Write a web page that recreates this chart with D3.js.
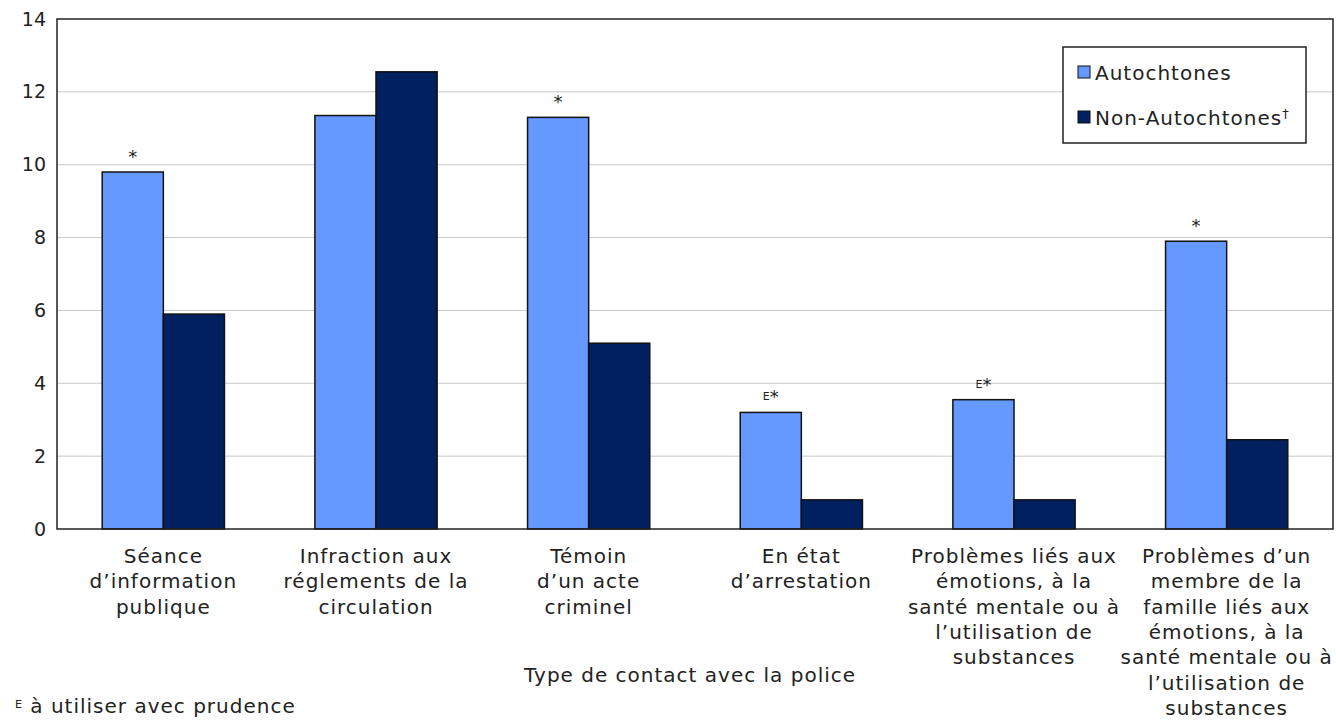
<!DOCTYPE html>
<html>
<head>
<meta charset="utf-8">
<script src="https://cdn.jsdelivr.net/npm/d3@7"></script>
<style>
  body { margin: 0; background: #fff; }
  svg text { font-family: "DejaVu Sans", Verdana, sans-serif; fill: #222; }
  .lbl { font-size: 20px; letter-spacing: 1px; }
</style>
</head>
<body>
<svg id="chart" width="1336" height="723"></svg>
<script>
// categories, one array of lines per group
const categories = [
  ["Séance", "d’information", "publique"],
  ["Infraction aux", "réglements de la", "circulation"],
  ["Témoin", "d’un acte", "criminel"],
  ["En état", "d’arrestation"],
  ["Problèmes liés aux", "émotions, à la", "santé mentale ou à", "l’utilisation de", "substances"],
  ["Problèmes d’un", "membre de la", "famille liés aux", "émotions, à la", "santé mentale ou à", "l’utilisation de", "substances"]
]
const autochtones = [9.8, 11.35, 11.3, 3.2, 3.55, 7.9]
const nonAutochtones = [5.9, 12.55, 5.1, 0.8, 0.8, 2.45]
// significance / quality flags shown above the Autochtones bars
const flags = ["*", "", "*", "E*", "E*", "*"]
const yTicks = [0, 2, 4, 6, 8, 10, 12, 14]
const seriesNames = ["Autochtones", "Non-Autochtones"]
const colors = ["#6699ff", "#002060"]

const svg = d3.select("#chart")
const mLeft = 57, mRight = 1333, mTop = 19, mBottom = 529

const x = d3.scaleBand().domain(d3.range(categories.length)).range([mLeft, mRight]).paddingInner(0).paddingOuter(0)
const x1 = d3.scaleBand().domain([0, 1]).range([0, x.bandwidth()]).paddingInner(0).paddingOuter(0.74)
const y = d3.scaleLinear().domain([0, 14]).range([mBottom, mTop])

// grid
svg.append("g")
  .selectAll("line")
  .data(yTicks.filter(d => d > 0 && d < 14))
  .enter().append("line")
  .attr("x1", mLeft).attr("x2", mRight)
  .attr("y1", d => y(d)).attr("y2", d => y(d))
  .attr("stroke", "#c8c8c8").attr("stroke-width", 1)

// y axis labels
const yAxis = svg.append("g")
  .attr("transform", "translate(" + mLeft + ",0)")
  .call(d3.axisLeft(y).tickValues(yTicks).tickSize(0).tickPadding(11))
yAxis.select(".domain").remove()
yAxis.selectAll("text").style("font-size", "19px").attr("fill", "#222")

// bars
const groups = svg.append("g")
  .selectAll("g")
  .data(categories.map((c, i) => i))
  .enter().append("g")
  .attr("transform", d => "translate(" + x(d) + ",0)")

groups.selectAll("rect")
  .data(i => [autochtones[i], nonAutochtones[i]])
  .enter().append("rect")
  .attr("x", (d, j) => x1(j))
  .attr("y", d => y(d))
  .attr("width", x1.bandwidth())
  .attr("height", d => y(0) - y(d))
  .attr("fill", (d, j) => colors[j])
  .attr("stroke", "#111")
  .attr("stroke-width", 1.5)

// flags above bars
groups.append("text")
  .attr("x", x1(0) + x1.bandwidth() / 2)
  .attr("y", i => y(autochtones[i]) - 9)
  .attr("text-anchor", "middle")
  .style("font-size", "18px")
  .each(function(i) {
    const f = flags[i]
    const t = d3.select(this)
    if (f.startsWith("E")) {
      t.append("tspan").text("E").style("font-size", "11px").attr("dy", "-3")
      t.append("tspan").text(f.slice(1)).attr("dy", "3")
    } else {
      t.text(f)
    }
  })

// frame
svg.append("rect")
  .attr("x", mLeft).attr("y", mTop)
  .attr("width", mRight - mLeft).attr("height", mBottom - mTop)
  .attr("fill", "none").attr("stroke", "#222").attr("stroke-width", 1.5)

// category labels
svg.append("g")
  .selectAll("text")
  .data(categories)
  .enter().append("text")
  .attr("class", "lbl")
  .attr("x", (d, i) => x(i) + x.bandwidth() / 2)
  .attr("y", 563)
  .attr("text-anchor", "middle")
  .selectAll("tspan")
  .data(d => d)
  .enter().append("tspan")
  .attr("x", function() { return this.parentNode.getAttribute("x") })
  .attr("dy", (d, k) => k === 0 ? 0 : 25.3)
  .text(d => d)

// axis title
svg.append("text")
  .attr("class", "lbl")
  .attr("x", 690).attr("y", 682)
  .attr("text-anchor", "middle")
  .text("Type de contact avec la police")

// footnote
const fn = svg.append("text").attr("class", "lbl").attr("x", 15).attr("y", 713)
fn.append("tspan").text("E").style("font-size", "11px").attr("dy", "-5")
fn.append("tspan").text(" à utiliser avec prudence").attr("dy", "5")

// legend
const lg = svg.append("g").attr("transform", "translate(1063,47)")
lg.append("rect").attr("width", 243).attr("height", 96)
  .attr("fill", "#fff").attr("stroke", "#222").attr("stroke-width", 1.5)
seriesNames.forEach((name, j) => {
  lg.append("rect")
    .attr("x", 15).attr("y", 19 + j * 45)
    .attr("width", 12).attr("height", 12)
    .attr("fill", colors[j]).attr("stroke", "#111").attr("stroke-width", 1)
  const t = lg.append("text").attr("class", "lbl").attr("x", 32).attr("y", 33 + j * 45).text(name)
  if (j === 1) t.append("tspan").text("†").style("font-size", "13px").attr("dy", "-7")
})
</script>
</body>
</html>
